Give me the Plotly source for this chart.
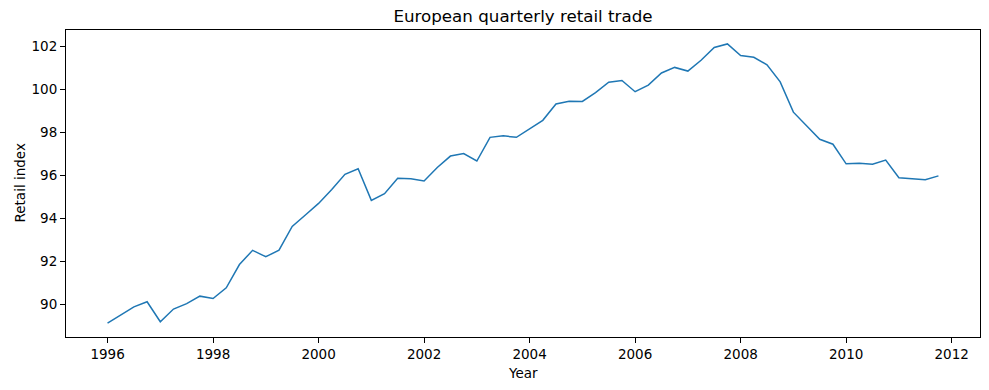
import plotly.graph_objects as go

years = list(range(1996, 2012))
values = [
    89.13, 89.52, 89.88, 90.12,
    89.19, 89.78, 90.03, 90.38,
    90.27, 90.77, 91.85, 92.51,
    92.21, 92.52, 93.62, 94.15,
    94.69, 95.34, 96.04, 96.30,
    94.83, 95.14, 95.86, 95.83,
    95.73, 96.36, 96.89, 97.01,
    96.66, 97.76, 97.83, 97.76,
    98.17, 98.55, 99.31, 99.44,
    99.43, 99.84, 100.32, 100.40,
    99.88, 100.19, 100.75, 101.01,
    100.84, 101.34, 101.94, 102.10,
    101.56, 101.48, 101.13, 100.34,
    98.93, 98.31, 97.67, 97.44,
    96.53, 96.56, 96.51, 96.70,
    95.88, 95.84, 95.79, 95.97,
]
t = [y + q / 4 for y in years for q in range(4)]

xmin, xmax = min(t), max(t)
ymin, ymax = min(values), max(values)
xm = (xmax - xmin) * 0.05
ym = (ymax - ymin) * 0.05

W, H = 989, 390
L, R, T, B = 66, 9, 30, 53
pw, ph = W - L - R, H - T - B

fig = go.Figure(go.Scatter(x=t, y=values, mode="lines",
                           line=dict(color="#1f77b4", width=1.5)))

font = "DejaVu Sans, sans-serif"
axis_common = dict(showgrid=False, zeroline=False, showline=True, mirror=True,
                   linecolor="black", linewidth=1, ticks="outside", ticklen=5,
                   tickwidth=1, tickcolor="black", automargin=False,
                   tickfont=dict(family=font, size=13.5, color="black"))
fig.update_layout(
    width=W, height=H,
    margin=dict(l=L, r=R, t=T, b=B),
    plot_bgcolor="white", paper_bgcolor="white",
    showlegend=False,
    title=dict(text="European quarterly retail trade", x=0.5, xref="paper",
               y=1 - 16 / H, yanchor="middle",
               font=dict(family=font, size=16.7, color="black")),
    xaxis=dict(range=[xmin - xm, xmax + xm], tickmode="array",
               tickvals=list(range(1996, 2013, 2)), **axis_common),
    yaxis=dict(range=[ymin - ym, ymax + ym], tickmode="array",
               tickvals=list(range(90, 103, 2)), **axis_common),
    annotations=[
        dict(text="Year", xref="paper", yref="paper", x=0.5,
             y=(H - B - 373) / ph, xanchor="center", yanchor="middle",
             showarrow=False, font=dict(family=font, size=13.5, color="black")),
        dict(text="Retail index", xref="paper", yref="paper",
             x=(19 - L) / pw, y=0.5, xanchor="center", yanchor="middle",
             textangle=-90, showarrow=False,
             font=dict(family=font, size=13.5, color="black")),
    ],
)
fig.write_html("out.html", config={"displayModeBar": False},
               post_script="document.body.style.margin='0';")
